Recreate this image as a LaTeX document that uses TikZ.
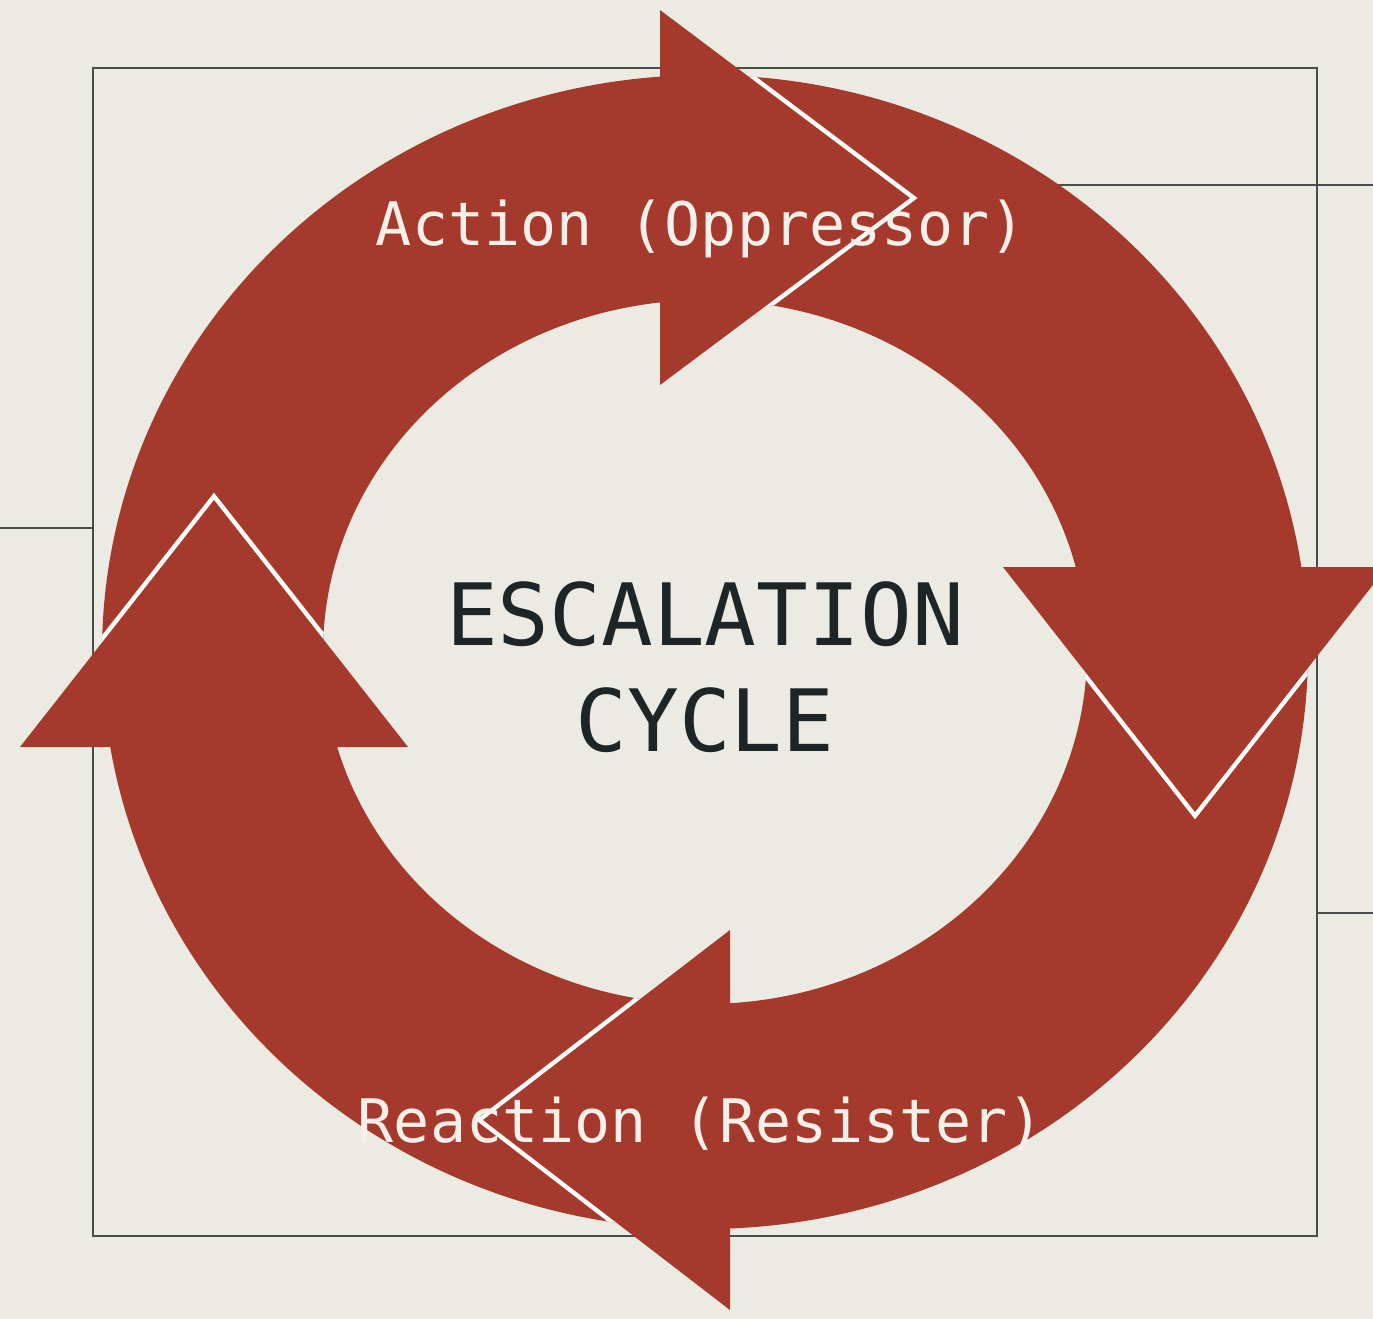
\documentclass[tikz,border=0pt]{standalone}
\usepackage{fontspec}
\setmonofont{DejaVu Sans Mono}
\definecolor{bg}{HTML}{ECEBE3}
\definecolor{brick}{HTML}{A5392C}
\definecolor{frameline}{HTML}{4A4D4C}
\definecolor{labeltext}{HTML}{F7EFEA}
\definecolor{titletext}{HTML}{1E2527}
% shafts (relative to the ring centre)
\def\shaftA{(186.47:603 and 577) arc[start angle=186.47, end angle=94.28, x radius=603pt, y radius=577pt] -- (96.76:382 and 352) arc[start angle=96.76, end angle=190.64, x radius=382pt, y radius=352pt] -- cycle}
\def\shaftB{(91.4:603 and 577) arc[start angle=91.4, end angle=8.47, x radius=603pt, y radius=577pt] -- (13.97:382 and 352) arc[start angle=13.97, end angle=92.25, x radius=382pt, y radius=352pt] -- cycle}
\def\shaftC{(5.47:603 and 577) arc[start angle=5.47, end angle=-87.62, x radius=603pt, y radius=577pt] -- (-86.25:382 and 352) arc[start angle=-86.25, end angle=8.99, x radius=382pt, y radius=352pt] -- cycle}
\def\shaftD{(-90.48:603 and 577) arc[start angle=-90.48, end angle=-170.52, x radius=603pt, y radius=577pt] -- (-164.34:382 and 352) arc[start angle=-164.34, end angle=-90.75, x radius=382pt, y radius=352pt] -- cycle}
\begin{document}
\begin{tikzpicture}[x=1pt,y=1pt,
  frame/.style={draw=frameline, line width=2pt},
  shaft/.style={fill=brick},
  headgap/.style={draw=white, line width=9pt, line join=miter},
  head/.style={fill=brick},
  label/.style={text=labeltext, font=\ttfamily\fontsize{60}{60}\selectfont, anchor=base, inner sep=0pt},
  title/.style={text=titletext, font=\ttfamily\fontsize{86}{86}\selectfont, anchor=base, inner sep=0pt}]
\useasboundingbox (0,0) rectangle (1373,-1319);
\fill[bg] (0,0) rectangle (1373,-1319);
\begin{scope}[shift={(705,-652)}]
  % frame and tick lines
  \coordinate (f1) at (-612,584);
  \coordinate (f2) at (612,-584);
  \draw[frame] (f1) rectangle (f2);
  \coordinate (t1a) at (295,467);   \coordinate (t1b) at (668,467);
  \coordinate (t2a) at (-705,124);  \coordinate (t2b) at (-612,124);
  \coordinate (t3a) at (612,-261);  \coordinate (t3b) at (668,-261);
  \draw[frame] (t1a) -- (t1b);
  \draw[frame] (t2a) -- (t2b);
  \draw[frame] (t3a) -- (t3b);
  % shafts
  \fill[shaft] \shaftA;
  \fill[shaft] \shaftB;
  \fill[shaft] \shaftC;
  \fill[shaft] \shaftD;
  % head of A (top, pointing right) over shaft B
  \begin{scope}
    \clip \shaftB;
    \draw[headgap] (-45,642) -- (205,454) -- (-45,267);
  \end{scope}
  \fill[head] (-45,642) -- (205,454) -- (-45,267) -- cycle;
  % head of B (right, pointing down) over shaft C
  \begin{scope}
    \clip \shaftC;
    \draw[headgap] (298,85) -- (490,-160) -- (682,85);
  \end{scope}
  \fill[head] (298,85) -- (490,-160) -- (682,85) -- cycle;
  % head of C (bottom, pointing left) over shaft D
  \begin{scope}
    \clip \shaftD;
    \draw[headgap] (25,-278) -- (-222,-468) -- (25,-658);
  \end{scope}
  \fill[head] (25,-278) -- (-222,-468) -- (25,-658) -- cycle;
  % head of D (left, pointing up) over shaft A
  \begin{scope}
    \clip \shaftA;
    \draw[headgap] (-685,-95) -- (-491,152) -- (-297,-95);
  \end{scope}
  \fill[head] (-685,-95) -- (-491,152) -- (-297,-95) -- cycle;
  % texts
  \node[label] (action) at (-4,407) {Action (Oppressor)};
  \node[label] (reaction) at (-4,-490) {Reaction (Resister)};
  \node[title] (esc) at (0,7) {ESCALATION};
  \node[title] (cyc) at (0,-99) {CYCLE};
\end{scope}
\end{tikzpicture}
\end{document}
